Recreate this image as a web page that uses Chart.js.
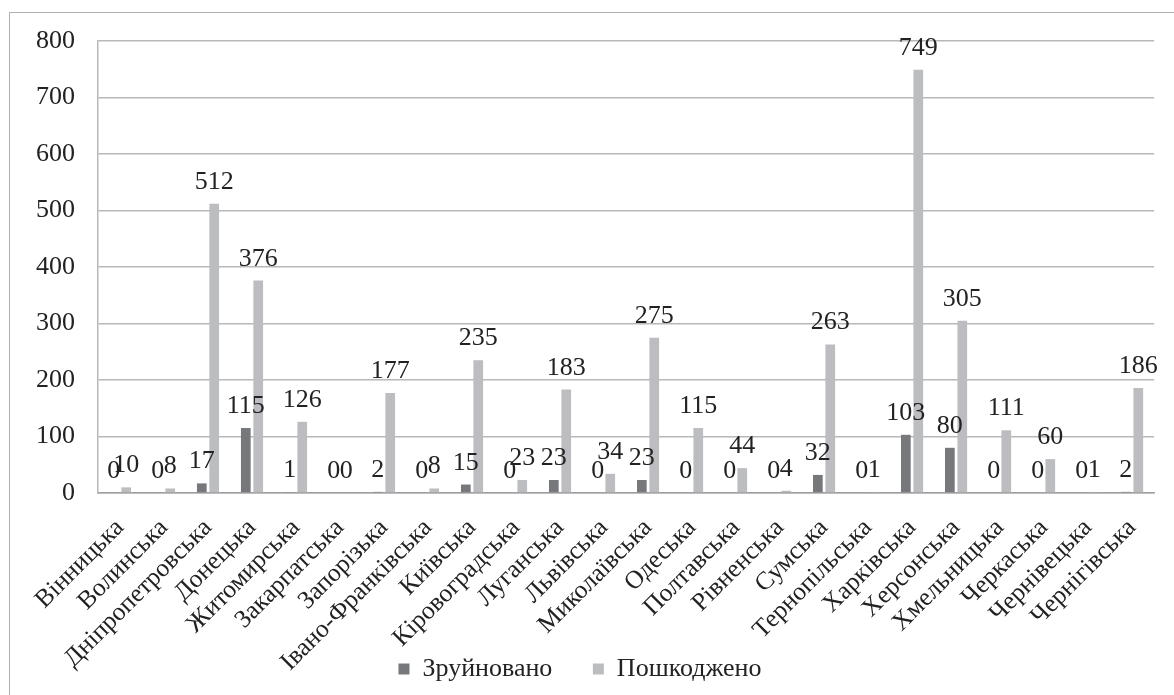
<!DOCTYPE html>
<html lang="uk">
<head>
<meta charset="utf-8">
<title>Зруйновані та пошкоджені об'єкти за областями</title>
<script src="https://cdn.jsdelivr.net/npm/chart.js@4.4.1/dist/chart.umd.min.js"></script>
<style>
  html, body { margin: 0; padding: 0; background: #fff; }
  #wrap { position: relative; width: 1174px; height: 695px; overflow: hidden; }
  #frame { position: absolute; left: 9px; top: 12px; width: 1200px; height: 720px;
           border-left: 1.5px solid #b0b0b0; border-top: 1.5px solid #b0b0b0; box-sizing: border-box; }
  canvas { position: absolute; left: 0; top: 0; }
</style>
</head>
<body>
<div id="wrap">
  <div id="frame"></div>
  <canvas id="chart" width="1174" height="695"></canvas>
</div>
<script>
// Regions (oblasts)
const regions = [
  'Вінницька', 'Волинська', 'Дніпропетровська', 'Донецька', 'Житомирська',
  'Закарпатська', 'Запорізька', 'Івано-Франківська', 'Київська', 'Кіровоградська',
  'Луганська', 'Львівська', 'Миколаївська', 'Одеська', 'Полтавська',
  'Рівненська', 'Сумська', 'Тернопільська', 'Харківська', 'Херсонська',
  'Хмельницька', 'Черкаська', 'Чернівецька', 'Чернігівська'
];

// Destroyed objects per region
const destroyed = [0, 0, 17, 115, 1, 0, 2, 0, 15, 0, 23, 0, 23, 0, 0, 0, 32, 0, 103, 80, 0, 0, 0, 2];

// Damaged objects per region
const damaged = [10, 8, 512, 376, 126, 0, 177, 8, 235, 23, 183, 34, 275, 115, 44, 4, 263, 1, 749, 305, 111, 60, 1, 186];

// Value axis ticks
const yTicks = [0, 100, 200, 300, 400, 500, 600, 700, 800];

const FONT = "'Liberation Serif', 'Times New Roman', serif";

// Writes each bar's value above it
const valueLabels = {
  id: 'valueLabels',
  afterDatasetsDraw(chart) {
    const ctx = chart.ctx;
    ctx.save();
    ctx.font = '26px ' + FONT;
    ctx.fillStyle = '#222';
    ctx.textAlign = 'center';
    ctx.textBaseline = 'alphabetic';
    chart.data.datasets.forEach((ds, i) => {
      const meta = chart.getDatasetMeta(i);
      meta.data.forEach((bar, j) => {
        ctx.fillText(String(ds.data[j]), bar.x, bar.y - 15);
      });
    });
    ctx.restore();
  }
};

new Chart(document.getElementById('chart'), {
  type: 'bar',
  data: {
    labels: regions,
    datasets: [
      {
        label: 'Зруйновано',
        data: destroyed,
        backgroundColor: '#77787b',
        categoryPercentage: 0.565,
        barPercentage: 0.78
      },
      {
        label: 'Пошкоджено',
        data: damaged,
        backgroundColor: '#bcbdc0',
        categoryPercentage: 0.565,
        barPercentage: 0.78
      }
    ]
  },
  options: {
    responsive: false,
    animation: false,
    devicePixelRatio: 1,
    layout: { padding: { left: 0, right: 14, top: 41, bottom: 3 } },
    plugins: {
      title: { display: false },
      tooltip: { enabled: false },
      legend: {
        position: 'bottom',
        labels: {
          font: { family: FONT, size: 26 },
          color: '#222',
          boxWidth: 11,
          boxHeight: 11,
          padding: 8,
          // wider gap between the two legend entries
          generateLabels(chart) {
            const items = Chart.defaults.plugins.legend.labels.generateLabels(chart);
            items.forEach((it, i) => {
              it.lineWidth = 0;
              if (i < items.length - 1) it.text = it.text + '     ';
            });
            return items;
          }
        }
      }
    },
    scales: {
      x: {
        grid: { display: false, drawTicks: false },
        border: { display: true, color: '#a0a0a0', width: 1.5 },
        ticks: {
          font: { family: FONT, size: 25.5 },
          color: '#222',
          minRotation: 45,
          maxRotation: 45,
          autoSkip: false,
          padding: 20
        },
        afterFit(scale) {
          scale.height = 155;
          // let the long rotated names run past the axis box instead of being cut
          scale._computeLabelArea = () => undefined;
        }
      },
      y: {
        min: 0,
        max: 800,
        afterBuildTicks(scale) { scale.ticks = yTicks.map(v => ({ value: v })); },
        grid: { color: '#b8b8b8', lineWidth: 1.5, drawTicks: false },
        border: { display: true, color: '#b8b8b8', width: 1.5 },
        ticks: {
          font: { family: FONT, size: 26 },
          color: '#222',
          padding: 23
        },
        afterFit(scale) { scale.width = 98; }
      }
    }
  },
  plugins: [valueLabels]
});
</script>
</body>
</html>
